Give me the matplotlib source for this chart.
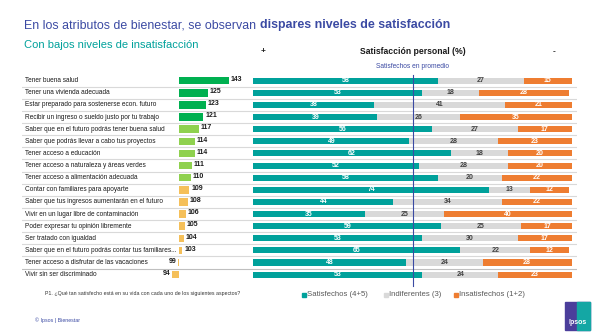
import matplotlib
matplotlib.use("Agg")
import matplotlib.pyplot as plt
from matplotlib.patches import Rectangle

plt.rcParams['font.family'] = ['Liberation Sans', 'DejaVu Sans']

categories = [
    "Tener buena salud",
    "Tener una vivienda adecuada",
    "Estar preparado para sostenerse econ. futuro",
    "Recibir un ingreso o sueldo justo por tu trabajo",
    "Saber que en el futuro podrás tener buena salud",
    "Saber que podrás llevar a cabo tus proyectos",
    "Tener acceso a educación",
    "Tener acceso a naturaleza y áreas verdes",
    "Tener acceso a alimentación adecuada",
    "Contar con familiares para apoyarte",
    "Saber que tus ingresos aumentarán en el futuro",
    "Vivir en un lugar libre de contaminación",
    "Poder expresar tu opinión libremente",
    "Ser tratado con igualdad",
    "Saber que en el futuro podrás contar tus familiares...",
    "Tener acceso a disfrutar de las vacaciones",
    "Vivir sin ser discriminado",
]
index_values = [143, 125, 123, 121, 117, 114, 114, 111, 110, 109, 108, 106, 105, 104, 103, 99, 94]
satisfechos = [58, 53, 38, 39, 56, 49, 62, 52, 58, 74, 44, 35, 59, 53, 65, 48, 53]
indiferentes = [27, 18, 41, 26, 27, 28, 18, 28, 20, 13, 34, 25, 25, 30, 22, 24, 24]
insatisfechos = [15, 28, 21, 35, 17, 23, 20, 20, 22, 12, 22, 40, 17, 17, 12, 28, 23]
promedio = 50
legend_labels = ["Satisfechos (4+5)", "Indiferentes (3)", "Insatisfechos (1+2)"]

C_TEAL = "#00a19b"
C_GRAY = "#d9d9d9"
C_ORANGE = "#ee7d31"
C_DGREEN = "#00b050"
C_LGREEN = "#8fd14f"
C_YELLOW = "#f5c05a"
C_BLUE = "#3b4aa3"

W, H = 600, 334
fig = plt.figure(figsize=(W / 100, H / 100), dpi=100)

def fx(px):
    return px / W

def fy(py):
    return 1 - py / H

n = len(categories)
row0, step = 80.7, 12.12
top_px = row0 - step / 2
bot_px = row0 + step * (n - 0.5)
ys = list(range(n))

# background axes (labels and separators)
bg = fig.add_axes([fx(22), fy(bot_px), fx(577 - 22), (bot_px - top_px) / H])
bg.set_xlim(0, 1)
bg.set_ylim(n - 0.5, -0.5)
bg.axis('off')
for i in range(n - 1):
    col = "#bfbfbf" if i == n - 2 else "#d9d9d9"
    bg.axhline(i + 0.5, color=col, lw=0.8)
for i, c in enumerate(categories):
    bg.text(0.006, i, c, fontsize=4.7, va='center', ha='left', color='#1a1a1a')

# index axes
base = 100
axl = fig.add_axes([fx(155.8), fy(bot_px), fx(237 - 155.8), (bot_px - top_px) / H])
axl.set_xlim(80, 150)
axl.set_ylim(n - 0.5, -0.5)
axl.axis('off')
for i, v in enumerate(index_values):
    if v >= 120:
        col = C_DGREEN
    elif v >= 110:
        col = C_LGREEN
    else:
        col = C_YELLOW
    axl.barh(i, v - base, left=base, height=0.62, color=col)
    if v >= base:
        axl.text(v + 1.5, i - 0.1, str(v), fontsize=5, fontweight='bold', va='center', ha='left', color='#1a1a1a')
    else:
        axl.text(min(v, base - 1) - 1.5, i - 0.1, str(v), fontsize=5, fontweight='bold', va='center', ha='right', color='#1a1a1a')

# stacked bars axes
axr = fig.add_axes([fx(253.3), fy(bot_px), fx(571.7 - 253.3), (bot_px - top_px) / H])
axr.set_xlim(0, 100)
axr.set_ylim(n - 0.5, -0.5)
axr.axis('off')
axr.barh(ys, satisfechos, height=0.5, color=C_TEAL)
left2 = [a for a in satisfechos]
axr.barh(ys, indiferentes, left=left2, height=0.5, color=C_GRAY)
left3 = [a + b for a, b in zip(satisfechos, indiferentes)]
axr.barh(ys, insatisfechos, left=left3, height=0.5, color=C_ORANGE)
for i in range(n):
    s, d, o = satisfechos[i], indiferentes[i], insatisfechos[i]
    axr.text(s / 2, i, str(s), fontsize=5, fontweight='bold', color='white', va='center', ha='center')
    axr.text(s + d / 2, i, str(d), fontsize=5, fontweight='bold', color='#404040', va='center', ha='center')
    axr.text(s + d + o / 2, i, str(o), fontsize=5, fontweight='bold', color='white', va='center', ha='center')
axr.plot([promedio, promedio], [-0.5, n - 0.05], color=C_BLUE, lw=0.8, clip_on=False)
axr.text(promedio, -1.15, "Satisfechos en promedio", fontsize=4.8, color=C_BLUE, ha='center', va='center')

# titles
t1 = fig.text(fx(24), fy(25), "En los atributos de bienestar, se observan ", fontsize=8.9, color=C_BLUE, va='center', ha='left')
fig.canvas.draw()
bb = t1.get_window_extent()
fig.text(bb.x1 / W, fy(25), "dispares niveles de satisfacción", fontsize=8.9, color=C_BLUE, fontweight='bold', va='center', ha='left')
fig.text(fx(24), fy(45), "Con bajos niveles de insatisfacción", fontsize=8.0, color=C_TEAL, va='center', ha='left')
fig.text(fx(263), fy(52), "+", fontsize=6, fontweight='bold', ha='center', va='center', color='#1a1a1a')
fig.text(fx(413), fy(51), "Satisfacción personal (%)", fontsize=6.2, fontweight='bold', ha='center', va='center', color='#1a1a1a')
fig.text(fx(554), fy(52), "-", fontsize=6, fontweight='bold', ha='center', va='center', color='#1a1a1a')

# footer
fig.text(fx(45), fy(294), "P1. ¿Qué tan satisfecho está en su vida con cada uno de los siguientes aspectos?", fontsize=3.8, color='#333333', va='center', ha='left')
leg_x = [302, 384, 454]
for x0, lab, col in zip(leg_x, legend_labels, [C_TEAL, C_GRAY, C_ORANGE]):
    fig.patches.append(Rectangle((fx(x0), fy(296.5)), fx(4), 4 / H, color=col, transform=fig.transFigure))
    fig.text(fx(x0 + 5), fy(294), lab, fontsize=5.6, color='#595959', va='center', ha='left')
fig.text(fx(35), fy(320), "© Ipsos | Bienestar", fontsize=3.8, color=C_BLUE, va='center', ha='left')

# logo
fig.patches.append(Rectangle((fx(565), fy(330)), fx(25), 28 / H, color='#4b3e9b', transform=fig.transFigure))
fig.patches.append(Rectangle((fx(577), fy(330)), fx(13), 28 / H, color='#14a7a4', transform=fig.transFigure))
fig.text(fx(577.5), fy(323), "Ipsos", fontsize=5, fontweight='bold', color='white', ha='center', va='center')

fig.savefig("out.png", dpi=100)
